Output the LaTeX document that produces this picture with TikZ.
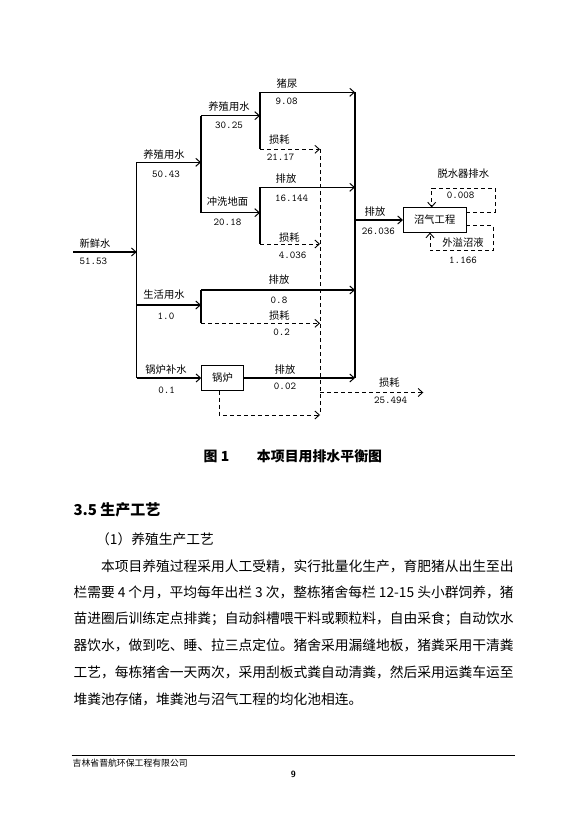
\documentclass[tikz,border=0pt]{standalone}
\usepackage{fontspec}
\newfontfamily\cjk{Noto Sans CJK SC}
\usetikzlibrary{arrows.meta}
\begin{document}
\begin{tikzpicture}[
    x=1pt, y=-1pt,
    lbl/.style={inner sep=0pt, font=\cjk\fontsize{10.3}{12}\selectfont},
    num/.style={inner sep=0pt, font=\ttfamily\fontsize{10.5}{12}\selectfont},
    unit/.style={rectangle, draw, line width=0.8pt, minimum width=#1, minimum height=24.4pt, inner sep=0pt, font=\cjk\fontsize{10.3}{12}\selectfont},
    pipe/.style={line width=1.1pt},
    flow/.style={pipe, -{Straight Barb[length=4.5pt, width=8pt, line width=1pt]}},
    loss/.style={line width=0.8pt, dash pattern=on 4pt off 3pt},
    lossflow/.style={loss, -{Straight Barb[length=4.5pt, width=8pt, line width=0.9pt]}},
    body/.style={anchor=west, inner sep=0pt, font=\cjk\fontsize{13.75}{16}\selectfont},
    capt/.style={inner sep=0pt, font=\cjk\bfseries\fontsize{13.9}{16}\selectfont}
]
    \useasboundingbox (0,0) rectangle (584,826);
    \fill[white] (0,0) rectangle (584,826);

    % 节点
    \coordinate (src) at (73,252);
    \coordinate (tin) at (136.7,252);
    \coordinate (t1) at (136.7,162.3);
    \coordinate (t2) at (136.7,305);
    \coordinate (t3) at (136.7,378);
    \coordinate (a1) at (201,162.3);
    \coordinate (a1t) at (201,115.7);
    \coordinate (a1b) at (201,212.7);
    \coordinate (b1) at (260,115.7);
    \coordinate (b1t) at (260,92.3);
    \coordinate (b1b) at (260,149.3);
    \coordinate (b2) at (260,212.7);
    \coordinate (b2t) at (260,187.3);
    \coordinate (b2b) at (260,244);
    \coordinate (e1) at (201,305);
    \coordinate (e1t) at (201,290);
    \coordinate (e1b) at (201,323.3);
    \coordinate (c1) at (355,92.3);
    \coordinate (c2) at (355,187.3);
    \coordinate (c3) at (355,290);
    \coordinate (c4) at (355,378);
    \coordinate (c5) at (355,220);
    \coordinate (d1) at (320,149.3);
    \coordinate (d2) at (320,244);
    \coordinate (d3) at (320,323.3);
    \coordinate (d4) at (320,392.5);
    \coordinate (d5) at (320,415);
    \coordinate (g1) at (219.3,415);
    \coordinate (lossend) at (423.3,392.5);
    \coordinate (h1) at (495,188.3);
    \coordinate (h2) at (431.7,188.3);
    \coordinate (k1) at (493.3,250.7);
    \coordinate (k2) at (430,250.7);

    \node[unit=41.6pt] (boiler) at (222.5,378) {锅炉};
    \node[unit=62.7pt] (biogas) at (434.7,220) {沼气工程};

    % 管线
    \draw[flow] (src) -- (tin);
    \draw[pipe] (t1) -- (t3);
    \draw[flow] (t1) -- (a1);
    \draw[pipe] (a1t) -- (a1b);
    \draw[flow] (a1t) -- (b1);
    \draw[flow] (a1b) -- (b2);
    \draw[pipe] (b1t) -- (b1b);
    \draw[flow] (b1t) -- (c1);
    \draw[lossflow] (b1b) -- (d1);
    \draw[pipe] (b2t) -- (b2b);
    \draw[flow] (b2t) -- (c2);
    \draw[lossflow] (b2b) -- (d2);
    \draw[flow] (t2) -- (e1);
    \draw[pipe] (e1t) -- (e1b);
    \draw[flow] (e1t) -- (c3);
    \draw[lossflow] (e1b) -- (d3);
    \draw[flow] (t3) -- (boiler);
    \draw[flow] (boiler) -- (c4);
    \draw[lossflow] (boiler.south -| g1) -- (g1) -- (d5);
    \draw[pipe] (c1) -- (c4);
    \draw[loss] (d1) -- (d5);
    \draw[lossflow] (d4) -- (lossend);
    \draw[flow] (c5) -- (biogas);
    \draw[lossflow] ([yshift=7.7pt]biogas.east) -| (h1) -- (h2) -- (h2 |- biogas.north);
    \draw[lossflow] ([yshift=-5.7pt]biogas.east) -| (k1) -- (k2) -- (k2 |- biogas.south);

    % 标注
    \node[lbl] (l_fresh) at (95,243.3) {新鲜水};
    \node[num] (n_fresh) at (93.3,261.7) {51.53};
    \node[lbl] (l_farm) at (164,155) {养殖用水};
    \node[num] (n_farm) at (166,174) {50.43};
    \node[lbl] (l_live) at (164,295) {生活用水};
    \node[num] (n_live) at (166,316.7) {1.0};
    \node[lbl] (l_boil) at (166,370) {锅炉补水};
    \node[num] (n_boil) at (166.7,390) {0.1};
    \node[lbl] (l_drink) at (229,107) {养殖用水};
    \node[num] (n_drink) at (229,125) {30.25};
    \node[lbl] (l_wash) at (227.5,202) {冲洗地面};
    \node[num] (n_wash) at (227.5,222) {20.18};
    \node[lbl] (l_urine) at (287,83.3) {猪尿};
    \node[num] (n_urine) at (286.7,101.7) {9.08};
    \node[lbl] (l_loss1) at (279.3,140) {损耗};
    \node[num] (n_loss1) at (280.7,157.3) {21.17};
    \node[lbl] (l_out2) at (286,178.3) {排放};
    \node[num] (n_out2) at (291.7,198.3) {16.144};
    \node[lbl] (l_loss2) at (289.3,238) {损耗};
    \node[num] (n_loss2) at (292.7,255) {4.036};
    \node[lbl] (l_out3) at (279,280) {排放};
    \node[num] (n_out3) at (279,300.7) {0.8};
    \node[lbl] (l_loss3) at (279.3,316) {损耗};
    \node[num] (n_loss3) at (281.7,332.7) {0.2};
    \node[lbl] (l_out4) at (285,369.3) {排放};
    \node[num] (n_out4) at (285,386) {0.02};
    \node[lbl] (l_loss) at (389.3,382.7) {损耗};
    \node[num] (n_loss) at (390.7,400.7) {25.494};
    \node[lbl] (l_sum) at (375,211.7) {排放};
    \node[num] (n_sum) at (378.3,231) {26.036};
    \node[lbl] (l_dewater) at (463.3,174) {脱水器排水};
    \node[num] (n_dewater) at (460.7,195) {0.008};
    \node[lbl] (l_spill) at (463,242.7) {外溢沼液};
    \node[num] (n_spill) at (463,260.7) {1.166};

    % 正文
    \node[capt] (figno) at (216.5,456.7) {图 1};
    \node[capt] (figtitle) at (319.5,456.7) {本项目用排水平衡图};
    \node[anchor=west, inner sep=0pt, font=\cjk\bfseries\fontsize{15}{18}\selectfont] (sec) at (73.3,510) {3.5 生产工艺};
    \node[body] (sub) at (96,539) {（1）养殖生产工艺};
    \node[body] (p1) at (100.8,566) {本项目养殖过程采用人工受精，实行批量化生产，育肥猪从出生至出};
    \node[body] (p2) at (73.3,592.6) {\makebox[440pt][s]{栏需要 4 个月，平均每年出栏 3 次，整栋猪舍每栏 12-15 头小群饲养，猪}};
    \node[body] (p3) at (73.3,619.2) {苗进圈后训练定点排粪；自动斜槽喂干料或颗粒料，自由采食；自动饮水};
    \node[body] (p4) at (73.3,645.8) {器饮水，做到吃、睡、拉三点定位。猪舍采用漏缝地板，猪粪采用干清粪};
    \node[body] (p5) at (73.3,672.4) {工艺，每栋猪舍一天两次，采用刮板式粪自动清粪，然后采用运粪车运至};
    \node[body] (p6) at (73.3,699) {堆粪池存储，堆粪池与沼气工程的均化池相连。};

    % 页脚
    \coordinate (rule_l) at (71.7,755.7);
    \coordinate (rule_r) at (515,755.7);
    \draw[line width=0.8pt] (rule_l) -- (rule_r);
    \node[anchor=west, inner sep=0pt, font=\cjk\fontsize{8.85}{10}\selectfont] (footer) at (72.5,763.3) {吉林省晋航环保工程有限公司};
    \node[inner sep=0pt, font=\sffamily\bfseries\fontsize{9}{10}\selectfont] (pageno) at (293.3,774.3) {9};
\end{tikzpicture}
\end{document}
